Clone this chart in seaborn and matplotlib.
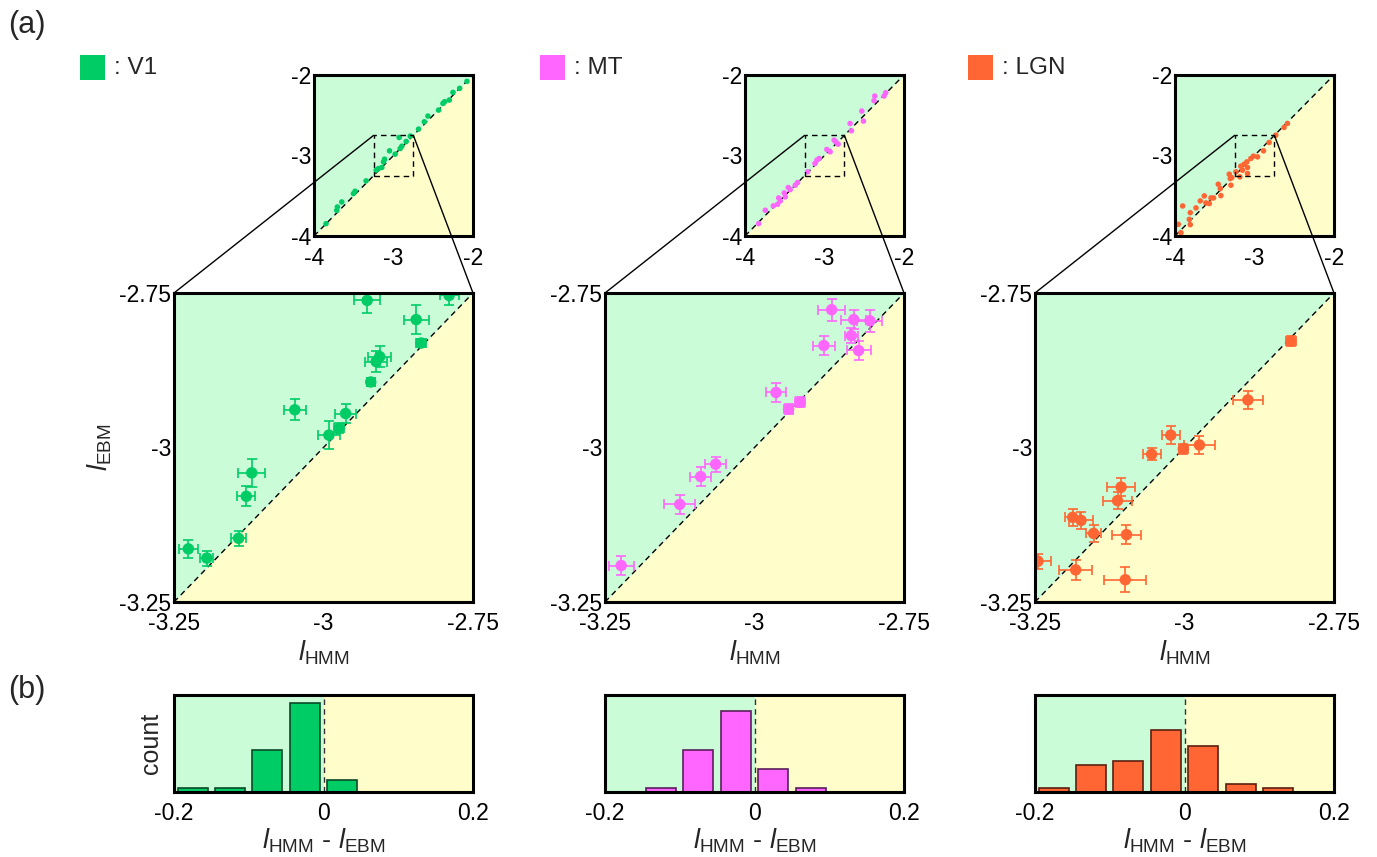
import numpy as np
import matplotlib
matplotlib.use('Agg')
import matplotlib.pyplot as plt
import seaborn as sns
from matplotlib.patches import Rectangle, ConnectionPatch

sns.set_style('white')
plt.rcParams['font.family'] = ['Liberation Sans', 'DejaVu Sans']
plt.rcParams['mathtext.fontset'] = 'custom'
plt.rcParams['mathtext.rm'] = 'Liberation Sans'
plt.rcParams['mathtext.it'] = 'Liberation Sans:italic'
plt.rcParams['axes.unicode_minus'] = False

#colours
v1_color = '#00CC66'
mt_color = '#FF66FF'
lgn_color = '#FF6633'
bg_green = '#CAFCD8'
bg_yellow = '#FFFDCA'

#zoomed panels (l_HMM, l_EBM, errors)
v1_x = [-2.927, -2.790, -2.845, -2.837, -2.906, -2.912, -2.921, -3.048, -2.963, -2.974, -2.991, -3.120, -3.129, -3.142, -3.226, -3.195]
v1_y = [-2.762, -2.754, -2.793, -2.831, -2.853, -2.861, -2.894, -2.939, -2.945, -2.969, -2.980, -3.041, -3.079, -3.147, -3.164, -3.179]
v1_xerr = [0.022, 0.016, 0.021, 0.008, 0.019, 0.018, 0.007, 0.018, 0.018, 0.008, 0.018, 0.023, 0.015, 0.012, 0.016, 0.011]
v1_yerr = [0.020, 0.016, 0.023, 0.007, 0.017, 0.017, 0.007, 0.017, 0.016, 0.008, 0.023, 0.023, 0.016, 0.012, 0.015, 0.012]

mt_x = [-2.871, -2.834, -2.807, -2.838, -2.884, -2.826, -2.964, -2.943, -2.924, -3.065, -3.090, -3.125, -3.223]
mt_y = [-2.777, -2.793, -2.795, -2.819, -2.835, -2.843, -2.911, -2.938, -2.927, -3.027, -3.047, -3.092, -3.191]
mt_xerr = [0.022, 0.021, 0.021, 0.011, 0.018, 0.020, 0.017, 0.008, 0.008, 0.018, 0.018, 0.026, 0.021]
mt_yerr = [0.018, 0.016, 0.018, 0.012, 0.015, 0.015, 0.016, 0.008, 0.008, 0.012, 0.015, 0.015, 0.015]

lgn_x = [-2.822, -2.894, -3.023, -3.002, -2.975, -3.055, -3.106, -3.112, -3.187, -3.173, -3.152, -3.097, -3.245, -3.182, -3.099]
lgn_y = [-2.828, -2.923, -2.980, -3.002, -2.996, -3.011, -3.064, -3.086, -3.113, -3.118, -3.139, -3.141, -3.184, -3.198, -3.214]
lgn_xerr = [0.008, 0.025, 0.015, 0.008, 0.026, 0.015, 0.023, 0.025, 0.012, 0.020, 0.013, 0.025, 0.021, 0.028, 0.035]
lgn_yerr = [0.008, 0.014, 0.015, 0.008, 0.015, 0.010, 0.015, 0.014, 0.014, 0.014, 0.014, 0.015, 0.012, 0.016, 0.020]

#full-range insets
v1_all_x = [-3.849, -3.714, -3.706, -3.651, -3.504, -3.483, -3.345, -3.218, -3.189, -3.147, -3.126, -3.113, -3.050, -2.979, -2.929,
            -2.916, -2.895, -2.840, -2.790, -2.685, -2.613, -2.567, -2.433, -2.378, -2.357, -2.298, -2.252, -2.168, -2.076]
v1_all_y = [-3.847, -3.681, -3.639, -3.577, -3.473, -3.444, -3.315, -3.183, -3.162, -3.149, -3.079, -3.046, -2.942, -2.983, -2.776,
            -2.913, -2.884, -2.826, -2.759, -2.672, -2.581, -2.510, -2.436, -2.353, -2.332, -2.311, -2.216, -2.166, -2.079]
mt_all_x = [-3.828, -3.745, -3.644, -3.590, -3.577, -3.556, -3.506, -3.494, -3.456, -3.431, -3.368, -3.339, -3.213, -3.121, -3.096,
            -3.067, -2.971, -2.929, -2.879, -2.858, -2.828, -2.661, -2.678, -2.510, -2.531, -2.377, -2.368, -2.251, -2.230]
mt_all_y = [-3.846, -3.680, -3.626, -3.606, -3.527, -3.564, -3.465, -3.514, -3.398, -3.423, -3.369, -3.336, -3.203, -3.100, -3.058,
            -3.037, -2.925, -2.954, -2.809, -2.830, -2.859, -2.693, -2.602, -2.573, -2.448, -2.319, -2.261, -2.261, -2.220]
lgn_all_x = [-3.958, -3.925, -3.904, -3.808, -3.820, -3.808, -3.736, -3.682, -3.632, -3.611, -3.569, -3.548, -3.515, -3.456, -3.431,
             -3.423, -3.318, -3.305, -3.285, -3.297, -3.234, -3.184, -3.172, -3.151, -3.130, -3.088, -3.096, -3.088, -3.046, -3.013,
             -2.962, -2.887, -2.816, -2.732, -2.628, -2.586]
lgn_all_y = [-3.855, -3.959, -3.627, -3.859, -3.793, -3.710, -3.651, -3.564, -3.502, -3.589, -3.597, -3.527, -3.527, -3.357, -3.411,
             -3.498, -3.232, -3.286, -3.274, -3.369, -3.203, -3.265, -3.133, -3.183, -3.108, -3.149, -3.079, -3.224, -3.037, -3.008,
             -3.017, -2.942, -2.838, -2.747, -2.651, -2.602]

#histograms of l_HMM - l_EBM
hist_centers = [-0.175, -0.125, -0.075, -0.025, 0.025, 0.075, 0.125, 0.175]
hist_edges = [-0.2, -0.15, -0.1, -0.05, 0.0, 0.05, 0.1, 0.15, 0.2]
v1_counts = [1, 1, 11, 23, 3, 0, 0, 0]
mt_counts = [0, 1, 11, 21, 6, 1, 0, 0]
lgn_counts = [1, 7, 8, 16, 12, 2, 1, 0]

W, H = 1377, 857
fig = plt.figure(figsize=(W / 100, H / 100), dpi=100)

TICK_FS = 16.5
LABEL_FS = 19.5


def box(x0, y0, x1, y1):
    # pixel box -> figure fraction
    return [x0 / W, 1 - y1 / H, (x1 - x0) / W, (y1 - y0) / H]


def style_spines(ax):
    for sp in ax.spines.values():
        sp.set_linewidth(2.2)
        sp.set_color('black')
        sp.set_zorder(6)
        sp.set_visible(True)


def diag_background(ax, lo, hi):
    ax.fill_between([lo, hi], [lo, hi], hi, color=bg_green, lw=0, zorder=0)
    ax.fill_between([lo, hi], lo, [lo, hi], color=bg_yellow, lw=0, zorder=0)
    ax.plot([lo, hi], [lo, hi], ls=(0, (4, 3)), color='black', lw=1, zorder=1)


def draw_main(ax, x, y, xerr, yerr, color):
    lo, hi = -3.25, -2.75
    diag_background(ax, lo, hi)
    ax.errorbar(x, y, xerr=xerr, yerr=yerr, fmt='none', ecolor=color, elinewidth=1.2,
                capsize=3.5, capthick=1.2, zorder=2)
    sns.scatterplot(x=x, y=y, color=color, s=68, edgecolor='none', ax=ax, zorder=3)
    ax.set_xlim(lo, hi)
    ax.set_ylim(lo, hi)
    ax.set_xticks([lo, -3, hi])
    ax.set_xticklabels(['-3.25', '-3', '-2.75'])
    ax.set_yticks([lo, -3, hi])
    ax.set_yticklabels(['-3.25', '-3', '-2.75'])
    ax.tick_params(axis='both', direction='in', length=6, width=2.2, labelsize=TICK_FS, colors='black')
    ax.tick_params(axis='x', pad=7)
    ax.tick_params(axis='y', pad=2)
    ax.set_xlabel(r'$\mathit{l}_{\mathrm{HMM}}$', fontsize=LABEL_FS, labelpad=3)
    ax.set_ylabel('')
    style_spines(ax)


def draw_inset(ax, x, y, color):
    lo, hi = -4, -2
    diag_background(ax, lo, hi)
    sns.scatterplot(x=x, y=y, color=color, s=16, edgecolor='none', ax=ax, zorder=3)
    # zoom window
    ax.plot([-3.25, -2.75, -2.75, -3.25, -3.25], [-3.25, -3.25, -2.75, -2.75, -3.25],
            ls=(0, (4, 3)), color='black', lw=1, zorder=4)
    ax.set_xlim(lo, hi)
    ax.set_ylim(lo, hi)
    ax.set_xticks([-4, -3, -2])
    ax.set_xticklabels(['-4', '-3', '-2'])
    ax.set_yticks([-4, -3, -2])
    ax.set_yticklabels(['-4', '-3', '-2'])
    ax.tick_params(axis='both', direction='in', length=6, width=2.2, labelsize=TICK_FS, colors='black')
    ax.tick_params(axis='x', pad=8)
    ax.tick_params(axis='y', pad=2)
    ax.set_xlabel('')
    ax.set_ylabel('')
    style_spines(ax)


def draw_hist(ax, counts, color, edge):
    ax.axvspan(-0.2, 0, color=bg_green, lw=0, zorder=0)
    ax.axvspan(0, 0.2, color=bg_yellow, lw=0, zorder=0)
    sns.histplot(x=hist_centers, weights=counts, bins=hist_edges, shrink=0.8, color=color,
                 edgecolor=edge, linewidth=1.2, alpha=1, ax=ax, zorder=2)
    ax.axvline(0, ls=(0, (4, 3)), color='#333333', lw=1, zorder=3)
    ax.set_xlim(-0.2, 0.2)
    ax.set_ylim(0, 25.2)
    ax.set_xticks([-0.2, 0, 0.2])
    ax.set_xticklabels(['-0.2', '0', '0.2'])
    ax.set_yticks([])
    ax.tick_params(axis='x', direction='in', length=6, width=2.2, labelsize=TICK_FS, pad=7, colors='black')
    ax.set_xlabel(r'$\mathit{l}_{\mathrm{HMM}}$ - $\mathit{l}_{\mathrm{EBM}}$', fontsize=LABEL_FS, labelpad=1)
    ax.set_ylabel('')
    style_spines(ax)


panels = [
    (174, v1_color, '#0B4A28', ': V1', v1_x, v1_y, v1_xerr, v1_yerr, v1_all_x, v1_all_y, v1_counts, 80),
    (605, mt_color, '#5A1F5A', ': MT', mt_x, mt_y, mt_xerr, mt_yerr, mt_all_x, mt_all_y, mt_counts, 540),
    (1035, lgn_color, '#5A2010', ': LGN', lgn_x, lgn_y, lgn_xerr, lgn_yerr, lgn_all_x, lgn_all_y, lgn_counts, 968),
]

for i, (left, color, edge, name, x, y, xe, ye, ax_all, ay_all, counts, leg_x) in enumerate(panels):
    main = fig.add_axes(box(left, 293, left + 299, 602))
    draw_main(main, x, y, xe, ye, color)
    ins = fig.add_axes(box(left + 140, 75, left + 299, 236))
    draw_inset(ins, ax_all, ay_all, color)
    hist = fig.add_axes(box(left, 695, left + 299, 792))
    draw_hist(hist, counts, color, edge)

    # lines joining the zoom window to the big panel
    for xa, xb in [(-3.25, 0), (-2.75, 1)]:
        con = ConnectionPatch(xyA=(xa, -2.75), coordsA='data', axesA=ins,
                              xyB=(xb, 1), coordsB='axes fraction', axesB=main,
                              color='black', lw=1, zorder=10)
        fig.add_artist(con)

    # legend square
    fig.add_artist(Rectangle((leg_x / W, 1 - 80 / H), 25 / W, 25 / H, transform=fig.transFigure,
                             facecolor=color, edgecolor='none'))
    fig.text((leg_x + 34) / W, 1 - 68 / H, name, fontsize=17.5, va='center', ha='left')

    if i == 0:
        main.set_ylabel(r'$\mathit{l}_{\mathrm{EBM}}$', fontsize=LABEL_FS, labelpad=4)
        hist.set_ylabel('count', fontsize=18, labelpad=8)

fig.text(8 / W, 1 - 25 / H, '(a)', fontsize=22, va='center', ha='left')
fig.text(8 / W, 1 - 690 / H, '(b)', fontsize=22, va='center', ha='left')

fig.savefig('out.png', dpi=100)
